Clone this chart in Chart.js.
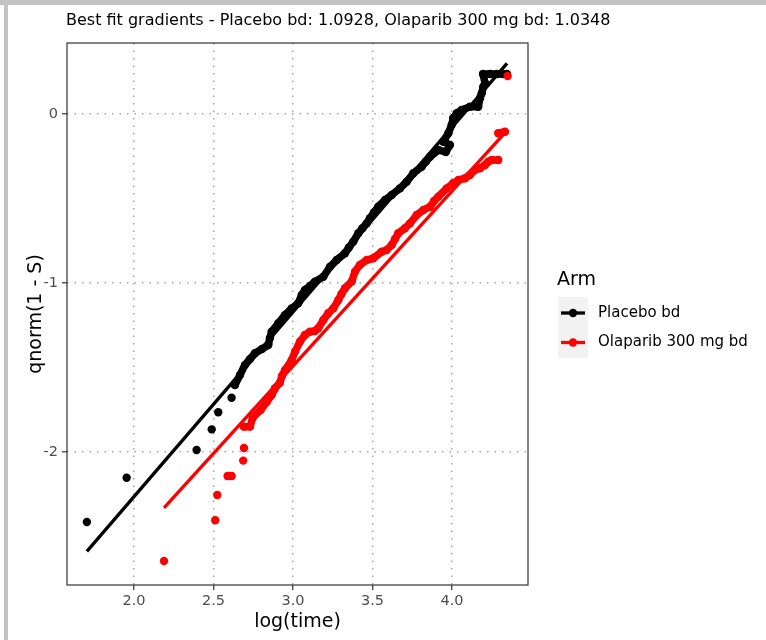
<!DOCTYPE html>
<html>
<head>
<meta charset="utf-8">
<script src="https://cdn.jsdelivr.net/npm/chart.js@4"></script>
<style>
  html, body { margin: 0; padding: 0; background: #fff; }
  canvas { display: block; }
</style>
</head>
<body>
<canvas id="myChart" width="766" height="640"></canvas>
<script>
// log(time) vs qnorm(1 - S), one pair of arrays per arm
const placeboLogTime = [1.704, 1.954, 2.394, 2.489, 2.530, 2.614, 2.635, 2.667, 2.698, 2.730, 2.761, 2.805, 2.845, 2.855, 2.866, 2.908, 2.950, 2.992, 3.033, 3.055, 3.075, 3.107, 3.138, 3.191, 3.233, 3.275, 3.327, 3.352, 3.379, 3.411, 3.437, 3.464, 3.484, 3.509, 3.536, 3.579, 3.621, 3.673, 3.715, 3.757, 3.809, 3.836, 3.862, 3.914, 3.962, 3.987, 3.945, 3.977, 3.998, 4.008, 4.030, 4.061, 4.113, 4.165, 4.176, 4.187, 4.197, 4.208, 4.195, 4.239, 4.283, 4.321, 4.346]
const placeboQ = [-2.414, -2.152, -1.988, -1.866, -1.765, -1.679, -1.604, -1.544, -1.485, -1.450, -1.416, -1.391, -1.367, -1.325, -1.288, -1.238, -1.189, -1.150, -1.120, -1.071, -1.041, -1.018, -0.992, -0.963, -0.904, -0.864, -0.824, -0.790, -0.756, -0.706, -0.676, -0.647, -0.617, -0.583, -0.549, -0.509, -0.479, -0.440, -0.401, -0.351, -0.312, -0.282, -0.253, -0.213, -0.225, -0.183, -0.164, -0.114, -0.065, -0.025, 0.004, 0.024, 0.043, 0.043, 0.093, 0.122, 0.162, 0.182, 0.237, 0.237, 0.237, 0.237, 0.237]

const olaparibLogTime = [2.189, 2.511, 2.524, 2.589, 2.614, 2.687, 2.692, 2.692, 2.730, 2.747, 2.797, 2.835, 2.866, 2.887, 2.918, 2.931, 2.950, 2.992, 3.013, 3.044, 3.075, 3.107, 3.138, 3.159, 3.191, 3.222, 3.254, 3.285, 3.305, 3.327, 3.369, 3.390, 3.421, 3.464, 3.505, 3.558, 3.589, 3.621, 3.642, 3.662, 3.704, 3.736, 3.778, 3.820, 3.862, 3.887, 3.914, 3.967, 4.008, 4.040, 4.082, 4.113, 4.145, 4.176, 4.208, 4.228, 4.250, 4.291, 4.291, 4.333, 4.350]
const olaparibQ = [-2.645, -2.404, -2.254, -2.142, -2.142, -2.051, -1.976, -1.850, -1.850, -1.797, -1.751, -1.704, -1.663, -1.623, -1.590, -1.550, -1.515, -1.456, -1.406, -1.347, -1.308, -1.288, -1.284, -1.268, -1.219, -1.179, -1.150, -1.101, -1.065, -1.031, -0.992, -0.933, -0.893, -0.864, -0.854, -0.815, -0.805, -0.775, -0.740, -0.706, -0.676, -0.647, -0.598, -0.568, -0.549, -0.515, -0.489, -0.440, -0.410, -0.391, -0.380, -0.361, -0.331, -0.321, -0.302, -0.282, -0.272, -0.272, -0.114, -0.105, 0.225]

const arms = ["Placebo bd", "Olaparib 300 mg bd"]
const armColors = ["#000000", "#ff0000"]
// best fit lines: q = intercept + gradient * log(time)
const gradients = [1.0928, 1.0348]
const intercepts = [-4.45, -4.596]

const xTicks = [2.0, 2.5, 3.0, 3.5, 4.0]
const yTicks = [-2, -1, 0]

const FONT = "'DejaVu Sans', sans-serif"
const DOT = 4.2

function toPoints(xs, ys) {
    return xs.map((x, i) => ({ x: x, y: ys[i] }))
}

function fitLine(xs, k) {
    const lo = Math.min(...xs), hi = Math.max(...xs)
    return [lo, hi].map(x => ({ x: x, y: intercepts[k] + gradients[k] * x }))
}

// points that overlap are joined, isolated ones stay as dots
function segColor(color) {
    return ctx => Math.hypot(ctx.p1.x - ctx.p0.x, ctx.p1.y - ctx.p0.y) > 12.5 ? "rgba(0,0,0,0)" : color
}

function pointSet(xs, ys, k, order) {
    return {
        type: "scatter",
        label: arms[k],
        data: toPoints(xs, ys),
        showLine: true,
        borderColor: armColors[k],
        borderWidth: 7.5,
        borderCapStyle: "round",
        borderJoinStyle: "round",
        segment: { borderColor: segColor(armColors[k]) },
        pointRadius: DOT,
        pointBorderWidth: 0,
        pointBackgroundColor: armColors[k],
        pointHoverRadius: DOT,
        order: order
    }
}

function lineSet(xs, k, order) {
    return {
        type: "line",
        label: arms[k] + " fit",
        data: fitLine(xs, k),
        borderColor: armColors[k],
        borderWidth: 3.3,
        pointRadius: 0,
        tension: 0,
        order: order
    }
}

const decor = {
    id: "decor",
    beforeDraw(chart) {
        const c = chart.ctx
        c.save()
        c.fillStyle = "#ffffff"
        c.fillRect(0, 0, chart.width, chart.height)
        // outer frame
        c.fillStyle = "#c3c3c3"
        c.fillRect(0, 0, chart.width, 5)
        c.fillRect(4, 0, 4, chart.height)
        c.restore()
    },
    afterDatasetsDraw(chart) {
        const c = chart.ctx
        const a = chart.chartArea
        c.save()
        c.strokeStyle = "#333333"
        c.lineWidth = 1.2
        c.strokeRect(a.left, a.top, a.right - a.left, a.bottom - a.top)
        c.restore()
    },
    afterDraw(chart) {
        const c = chart.ctx
        const a = chart.chartArea
        c.save()
        c.fillStyle = "#000000"
        c.textBaseline = "middle"

        c.font = "16px " + FONT
        c.textAlign = "left"
        c.fillText("Best fit gradients - Placebo bd: " + gradients[0].toFixed(4) + ", Olaparib 300 mg bd: " + gradients[1].toFixed(4), a.left - 1, 21)

        c.font = "19px " + FONT
        c.textAlign = "center"
        c.fillText("log(time)", (a.left + a.right) / 2, 622)
        c.save()
        c.translate(36, (a.top + a.bottom) / 2)
        c.rotate(-Math.PI / 2)
        c.fillText("qnorm(1 - S)", 0, 0)
        c.restore()

        // legend
        c.textAlign = "left"
        c.fillText("Arm", 557, 280)
        c.fillStyle = "#f2f2f2"
        c.fillRect(558, 297, 30, 61)
        c.font = "15px " + FONT
        arms.forEach((name, k) => {
            const y = 313 + k * 29.5
            c.strokeStyle = armColors[k]
            c.lineWidth = 3.3
            c.beginPath()
            c.moveTo(561, y)
            c.lineTo(585, y)
            c.stroke()
            c.fillStyle = armColors[k]
            c.beginPath()
            c.arc(573, y, DOT, 0, Math.PI * 2)
            c.fill()
            c.fillStyle = "#000000"
            c.fillText(name, 598, y)
        })
        c.restore()
    }
}

const tickFont = { family: FONT, size: 14.5 }

new Chart(document.querySelector("#myChart"), {
    data: {
        datasets: [
            lineSet(olaparibLogTime, 1, 0),
            lineSet(placeboLogTime, 0, 1),
            pointSet(olaparibLogTime, olaparibQ, 1, 2),
            pointSet(placeboLogTime, placeboQ, 0, 3)
        ]
    },
    options: {
        responsive: false,
        animation: false,
        devicePixelRatio: 1,
        layout: { padding: { left: 0, right: 238, top: 43, bottom: 0 } },
        plugins: {
            legend: { display: false },
            tooltip: { enabled: false }
        },
        scales: {
            x: {
                type: "linear",
                min: 1.579,
                max: 4.478,
                afterBuildTicks: s => { s.ticks = xTicks.map(v => ({ value: v })) },
                afterFit: s => { s.height = 55 },
                ticks: {
                    color: "#4d4d4d",
                    font: tickFont,
                    padding: 3,
                    maxRotation: 0,
                    callback: v => v.toFixed(1)
                },
                grid: {
                    color: "#a6a6a6",
                    lineWidth: 1.5,
                    tickLength: 5,
                    tickColor: "#333333",
                    tickWidth: 1.2,
                    tickBorderDash: []
                },
                border: { display: false, dash: [1.5, 6] }
            },
            y: {
                type: "linear",
                min: -2.787,
                max: 0.42,
                afterBuildTicks: s => { s.ticks = yTicks.map(v => ({ value: v })) },
                afterFit: s => { s.width = 67 },
                ticks: {
                    color: "#4d4d4d",
                    font: tickFont,
                    padding: 4,
                    callback: v => String(v)
                },
                grid: {
                    color: "#a6a6a6",
                    lineWidth: 1.5,
                    tickLength: 5,
                    tickColor: "#333333",
                    tickWidth: 1.2,
                    tickBorderDash: []
                },
                border: { display: false, dash: [1.5, 6] }
            }
        }
    },
    plugins: [decor]
})
</script>
</body>
</html>
